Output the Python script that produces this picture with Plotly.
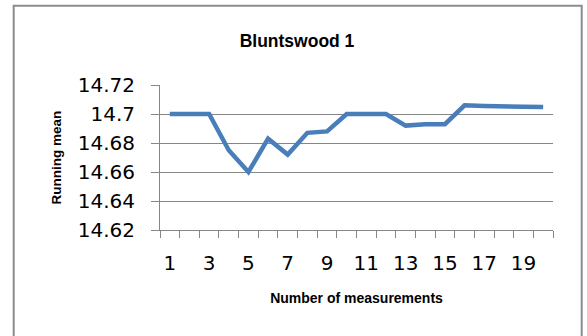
import plotly.graph_objects as go

# Running mean after each measurement (Bluntswood 1)
measurements = list(range(1, 21))
running_mean = [14.700, 14.700, 14.700, 14.675, 14.660, 14.683, 14.672, 14.687, 14.688, 14.700,
                14.700, 14.700, 14.692, 14.693, 14.693, 14.706, 14.7055, 14.705, 14.705, 14.7048]

y_ticks = [14.62, 14.64, 14.66, 14.68, 14.70, 14.72]
y_tick_labels = ["14.62", "14.64", "14.66", "14.68", "14.7", "14.72"]
x_ticks = [1, 3, 5, 7, 9, 11, 13, 15, 17, 19]
x_tick_labels = [str(v) for v in x_ticks]

GRID = "#868686"
LINE_BLUE = "#4A7EBB"

fig = go.Figure()
fig.add_trace(go.Scatter(
    x=measurements, y=running_mean, mode="lines",
    line=dict(color=LINE_BLUE, width=4.5),
    hoverinfo="x+y",
))

fig.update_layout(
    width=587, height=336,
    margin=dict(l=160, r=34, t=85, b=106),
    paper_bgcolor="white", plot_bgcolor="white",
    showlegend=False,
    title=dict(text="<b>Bluntswood 1</b>", x=(297 / 587), xanchor="center",
               y=1 - 41 / 336, yanchor="middle",
               font=dict(family="Liberation Sans", size=17.5, color="black")),
    font=dict(family="DejaVu Sans", color="black"),
)

fig.update_xaxes(
    range=[0.5, 20.5],
    tickmode="array", tickvals=x_ticks, ticktext=x_tick_labels,
    ticks="", ticklabelstandoff=15,
    tickfont=dict(family="DejaVu Sans", size=20, color="black"),
    showgrid=False, zeroline=False,
    showline=True, linecolor=GRID, linewidth=1,
    minor=dict(ticks="outside", ticklen=7, tickwidth=1, tickcolor=GRID,
               tick0=0.5, dtick=1, showgrid=False),
    title=dict(text="<b>Number of measurements</b>", standoff=19,
               font=dict(family="Liberation Sans", size=14, color="black")),
)

fig.update_yaxes(
    range=[14.62, 14.72],
    tickmode="array", tickvals=y_ticks, ticktext=y_tick_labels,
    ticks="outside", ticklen=8, tickwidth=1, tickcolor=GRID,
    ticklabelstandoff=12,
    tickfont=dict(family="DejaVu Sans", size=20, color="black"),
    showgrid=True, gridcolor=GRID, gridwidth=1, zeroline=False,
    showline=True, linecolor=GRID, linewidth=1,
    title=dict(text="<b>Running mean</b>", standoff=13,
               font=dict(family="Liberation Sans", size=13.5, color="black")),
)

# Chart-area frame around the whole figure
fig.add_shape(type="rect", xref="paper", yref="paper",
              x0=(13.7 - 160) / 393, x1=(581.7 - 160) / 393,
              y0=(230 - 360) / 145, y1=(230 - 5.7) / 145,
              line=dict(color="#8C8C8C", width=2), fillcolor="rgba(0,0,0,0)",
              layer="below")

fig.write_html("out.html")
